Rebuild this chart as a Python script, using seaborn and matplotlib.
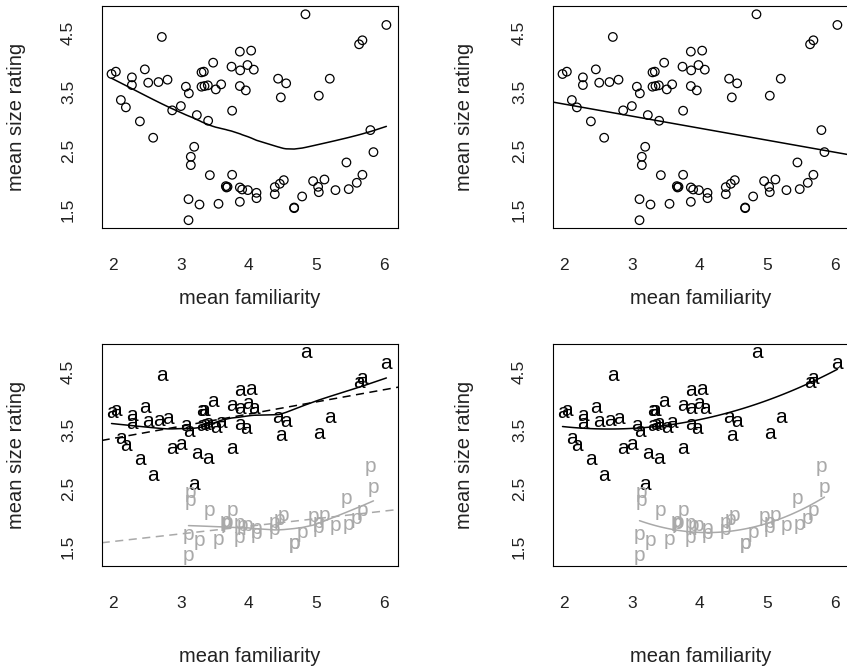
import numpy as np
import pandas as pd
import matplotlib
matplotlib.use("Agg")
import matplotlib.pyplot as plt
import matplotlib.transforms as mtransforms
import seaborn as sns

# --- data (mean familiarity / mean size rating) ---
animal_fam = [1.975, 2.039, 2.113, 2.187, 2.276, 2.276, 2.394, 2.467, 2.517, 2.590,
              2.669, 2.718, 2.802, 2.871, 2.999, 3.073, 3.117, 3.196, 3.235, 3.304,
              3.338, 3.304, 3.348, 3.397, 3.402, 3.476, 3.515, 3.594, 3.747, 3.756,
              3.870, 3.875, 3.870, 3.958, 3.983, 4.037, 4.076, 4.435, 4.554, 4.475,
              4.839, 5.036, 5.198, 5.631, 5.680, 6.034]
animal_size = [3.807, 3.847, 3.364, 3.239, 3.750, 3.619, 3.000, 3.886, 3.659, 2.722,
               3.670, 4.438, 3.710, 3.188, 3.261, 3.591, 3.477, 2.568, 3.108, 3.835,
               3.847, 3.591, 3.602, 3.614, 3.011, 4.000, 3.545, 3.631, 3.932, 3.182,
               4.188, 3.869, 3.602, 3.528, 3.960, 4.205, 3.881, 3.727, 3.648, 3.409,
               4.824, 3.438, 3.727, 4.313, 4.381, 4.642]
plant_fam = [3.146, 3.146, 3.112, 3.112, 3.274, 3.427, 3.555, 3.688, 3.673, 3.663,
             3.756, 3.870, 3.904, 3.870, 3.988, 4.116, 4.116, 4.386, 4.386, 4.460,
             4.519, 4.672, 4.672, 4.790, 4.952, 5.026, 5.036, 5.119, 5.282, 5.444,
             5.478, 5.597, 5.680, 5.798, 5.843]
plant_size = [2.398, 2.256, 1.676, 1.318, 1.585, 2.085, 1.597, 1.886, 1.875, 1.898,
              2.091, 1.875, 1.841, 1.631, 1.830, 1.784, 1.693, 1.881, 1.761, 1.938,
              2.000, 1.534, 1.523, 1.722, 1.983, 1.886, 1.795, 2.011, 1.830, 2.301,
              1.847, 1.955, 2.091, 2.852, 2.477]

df = pd.DataFrame({
    "fam": animal_fam + plant_fam,
    "size": animal_size + plant_size,
    "cls": ["a"] * len(animal_fam) + ["p"] * len(plant_fam),
})

GREY = "#a9a9a9"
XLIM = (1.83, 6.21)
YLIM = (1.18, 4.97)


def r_lowess(x, y, f=2 / 3, iters=3):
    # port of R's clowess (no delta shortcut)
    idx = np.argsort(x, kind="mergesort")
    xs = np.asarray(x, float)[idx]
    ys = np.asarray(y, float)[idx]
    n = len(xs)
    ns = max(min(int(f * n + 1e-7), n), 2)
    rw = np.ones(n)
    fit = np.zeros(n)
    rng = xs[-1] - xs[0]
    for it in range(iters + 1):
        nleft, nright = 0, ns - 1
        for i in range(n):
            while nright < n - 1 and xs[i] - xs[nleft] > xs[nright + 1] - xs[i]:
                nleft += 1
                nright += 1
            h = max(xs[i] - xs[nleft], xs[nright] - xs[i])
            d = np.abs(xs - xs[i])
            w = np.zeros(n)
            inside = d <= 0.999 * h
            w[inside] = np.where(d[inside] <= 0.001 * h, 1.0,
                                 (1 - (d[inside] / h) ** 3) ** 3)
            w *= rw
            if w.sum() <= 0:
                fit[i] = ys[i]
                continue
            w /= w.sum()
            if h > 0:
                a = (w * xs).sum()
                c = (w * (xs - a) ** 2).sum()
                if np.sqrt(c) > 0.001 * rng:
                    b = (xs[i] - a) / c
                    w = w * (b * (xs - a) + 1)
            fit[i] = (w * ys).sum()
        if it == iters:
            break
        ares = np.abs(ys - fit)
        cmad = 6 * np.median(ares)
        if cmad < 1e-7 * np.mean(np.abs(ys)):
            break
        rw = np.where(ares <= 0.001 * cmad, 1.0,
                      np.where(ares <= 0.999 * cmad, (1 - (ares / cmad) ** 2) ** 2, 0.0))
    return xs, fit


def style_axes(ax, xlab_y, ylab_x):
    ax.set_xlim(XLIM)
    ax.set_ylim(YLIM)
    ax.set_xticks([2, 3, 4, 5, 6])
    ax.set_yticks([1.5, 2, 2.5, 3, 3.5, 4, 4.5])
    ax.set_yticklabels(["1.5", "", "2.5", "", "3.5", "", "4.5"])
    ax.tick_params(axis="both", direction="out", length=8.6, width=0.8,
                   color="black", labelsize=12.5, labelcolor="#222222")
    ax.tick_params(axis="x", pad=13)
    ax.tick_params(axis="y", pad=10)
    for lab in ax.get_yticklabels():
        lab.set_rotation(90)
        lab.set_va("center")
    for sp in ax.spines.values():
        sp.set_visible(True)
        sp.set_color("black")
        sp.set_linewidth(0.8)
    ax.set_xlabel("mean familiarity", fontsize=14.5, color="#222222")
    ax.set_ylabel("mean size rating", fontsize=14.5, color="#222222")
    ax.xaxis.set_label_coords(0.5, xlab_y)
    ax.yaxis.set_label_coords(ylab_x, 0.5)
    ax.grid(False)


def text_points(ax, data, label, color):
    # R centres the glyph ink on the point; shift baseline accordingly
    shift = -4.0 if label == "a" else -2.4
    tr = mtransforms.offset_copy(ax.transData, fig=ax.figure, y=shift, units="points")
    for xv, yv in zip(data["fam"], data["size"]):
        ax.text(xv, yv, label, transform=tr, ha="center", va="baseline",
                fontsize=15, color=color, clip_on=False)


sns.set_style("white")
plt.rcParams["font.family"] = ["Liberation Sans", "DejaVu Sans"]

fig = plt.figure(figsize=(8.47, 6.68), dpi=100)
W, H = 847, 668
def box(left, top, right, bottom):
    return [left / W, 1 - bottom / H, (right - left) / W, (bottom - top) / H]

ax1 = fig.add_axes(box(101.7, 5.7, 398.3, 228.3))
ax2 = fig.add_axes(box(552.7, 5.7, 849.3, 228.3))
ax3 = fig.add_axes(box(101.7, 344.3, 398.3, 566.0))
ax4 = fig.add_axes(box(552.7, 344.3, 849.3, 566.0))

animals = df[df["cls"] == "a"]
plants = df[df["cls"] == "p"]
dash = (0, (5.3, 3.6))

# top left: scatter + lowess
sns.scatterplot(data=df, x="fam", y="size", ax=ax1, s=38, marker="o",
                facecolor="none", edgecolor="black", linewidth=0.9, legend=False)
lx, ly = r_lowess(df["fam"].values, df["size"].values)
sns.lineplot(x=lx, y=ly, ax=ax1, color="black", lw=1.1, estimator=None, sort=False)

# top right: scatter + least squares line across the whole panel
sns.scatterplot(data=df, x="fam", y="size", ax=ax2, s=38, marker="o",
                facecolor="none", edgecolor="black", linewidth=0.9, legend=False)
ax2.set_xlim(XLIM)
sns.regplot(data=df, x="fam", y="size", ax=ax2, scatter=False, ci=None,
            truncate=False, line_kws=dict(color="black", lw=1.1))

# bottom left: letters, lowess per class (solid) + lm per class (dashed)
ax3.set_xlim(XLIM)
for sub, lab, col in [(animals, "a", "black"), (plants, "p", GREY)]:
    text_points(ax3, sub, lab, col)
    sx, sy = r_lowess(sub["fam"].values, sub["size"].values)
    sns.lineplot(x=sx, y=sy, ax=ax3, color=col, lw=1.1, estimator=None, sort=False)
    sns.regplot(data=sub, x="fam", y="size", ax=ax3, scatter=False, ci=None,
                truncate=False, line_kws=dict(color=col, lw=1.1, linestyle=dash))

# bottom right: letters + quadratic fit per class
for sub, lab, col in [(animals, "a", "black"), (plants, "p", GREY)]:
    text_points(ax4, sub, lab, col)
    sns.regplot(data=sub, x="fam", y="size", ax=ax4, scatter=False, ci=None,
                order=2, line_kws=dict(color=col, lw=1.1))

style_axes(ax1, -0.273, -0.255)
style_axes(ax2, -0.273, -0.265)
style_axes(ax3, -0.364, -0.255)
style_axes(ax4, -0.364, -0.265)

fig.savefig("out.png", dpi=100)
